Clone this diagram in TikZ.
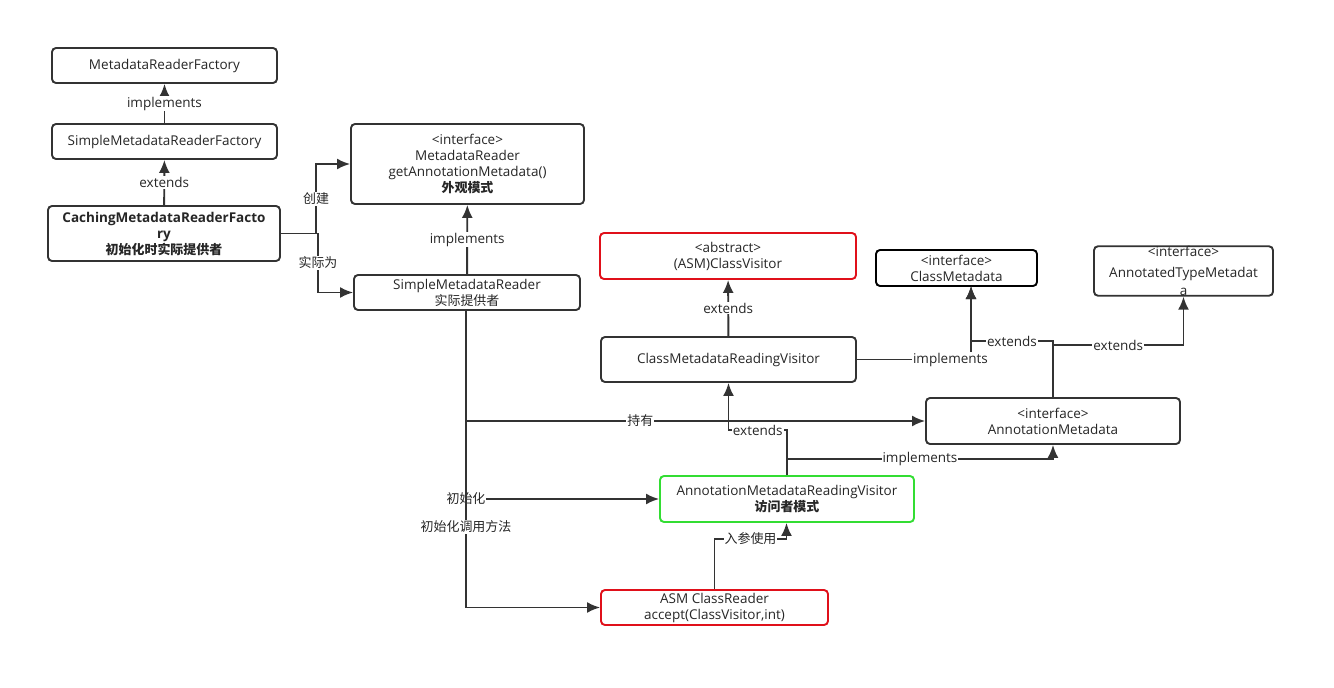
\documentclass[tikz,border=0pt]{standalone}
\usepackage{fontspec}
\setmainfont{Open Sans}
\newfontfamily\cjk{Noto Sans CJK SC}[Scale=0.96]
\usetikzlibrary{arrows.meta,calc}
\definecolor{ln}{HTML}{333333}
\definecolor{tx}{HTML}{262626}
\definecolor{rd}{HTML}{E0101A}
\definecolor{gn}{HTML}{33DD33}
\begin{document}
\begin{tikzpicture}[x=1pt,y=-1pt,
 box/.style={draw=ln, line width=1.9pt, rounded corners=4pt, fill=white, align=center, inner sep=0pt, font=\fontsize{13.5}{16}\selectfont, text=tx},
 arr/.style={draw=ln, line width=1.9pt, -{Latex[length=13pt,width=11pt]}},
 lbl/.style={fill=white, inner sep=1pt, font=\fontsize{13.5}{15}\selectfont, text=tx}]
\fill[white] (0,0) rectangle (1334,688);
\useasboundingbox (0,0) rectangle (1334,688);

% nodes
\node[box, minimum width=225pt, minimum height=35pt] (mrf) at (164.5,65.5) {MetadataReaderFactory};
\node[box, minimum width=225pt, minimum height=35pt] (smrf) at (164.5,141.5) {SimpleMetadataReaderFactory};
\node[box, minimum width=232pt, minimum height=55pt, font=\fontsize{13.5}{16}\selectfont\bfseries] (cmrf) at (164,233.5) {CachingMetadataReaderFacto\\ry\\{\cjk\bfseries 初始化时实际提供者}};
\node[box, minimum width=233pt, minimum height=80pt] (mr) at (467.5,164) {<interface>\\MetadataReader\\getAnnotationMetadata()\\{\cjk\bfseries 外观模式}};
\node[box, minimum width=226pt, minimum height=35pt] (smr) at (467,292.5) {SimpleMetadataReader\\{\cjk 实际提供者}};
\node[box, draw=rd, minimum width=256pt, minimum height=46pt] (cv) at (728,256) {<abstract>\\(ASM)ClassVisitor};
\node[box, minimum width=255pt, minimum height=45pt] (cmrv) at (728.5,359.5) {ClassMetadataReadingVisitor};
\node[box, draw=black, minimum width=161pt, minimum height=36pt] (cm) at (956.5,268) {<interface>\\ClassMetadata};
\node[box, minimum width=179pt, minimum height=42pt, font=\fontsize{13.5}{18}\selectfont] (atm) at (1183.5,271) {\raisebox{3pt}{<interface>}\\AnnotatedTypeMetadat\\a};
\node[box, minimum width=254pt, minimum height=46pt] (am) at (1053,421) {<interface>\\AnnotationMetadata};
\node[box, draw=gn, minimum width=254pt, minimum height=46pt] (amrv) at (787,499) {AnnotationMetadataReadingVisitor\\{\cjk\bfseries 访问者模式}};
\node[box, draw=rd, minimum width=227pt, minimum height=35pt] (cr) at (714.5,607.5) {ASM ClassReader\\accept(ClassVisitor,int)};

% connectors
\draw[arr] (smrf) -- node[lbl]{implements} (mrf);
\draw[arr] (cmrf) -- node[lbl]{extends} (smrf);
\coordinate (j1) at (316,233.5);
\coordinate (j2) at (318,233.5);
\draw[arr] (cmrf.east) -- (j1) |- node[lbl,pos=0.25]{\cjk 创建} (mr.west);
\draw[arr] (cmrf.east) -- (j2) |- node[lbl,pos=0.25]{\cjk 实际为} (smr.west);
\draw[arr] (smr) -- node[lbl]{implements} (mr);
\draw[arr] ([xshift=-1pt]smr.south) |- node[lbl,pos=0.69]{\cjk 持有} (am.west);
\draw[arr] ([xshift=-1pt]smr.south) |- node[lbl,pos=0.5]{\cjk 初始化} (amrv.west);
\draw[arr] ([xshift=-1pt]smr.south) |- node[lbl,pos=0.364]{\cjk 初始化调用方法} (cr.west);
\draw[arr] (cmrv) -- node[lbl]{extends} (cv);
\coordinate (cmb) at (971,286);
\draw[arr] (cmrv.east) -| node[lbl,pos=0.41]{implements} (cmb);
\draw[arr] (am.north) -- ++(0,-56) -| node[lbl,pos=0.25]{extends} (cmb);
\draw[arr] (am.north) -- ++(0,-52) -| node[lbl,pos=0.25]{extends} (atm.south);
\draw[arr] (amrv.north) -- ++(0,-45) -| node[lbl,pos=0.25]{extends} (cmrv.south);
\draw[arr] (amrv.north) -- ++(0,-16) -| node[lbl,pos=0.25]{implements} (am.south);
\draw[arr] (cr.north) -- ++(0,-50) -| node[lbl,pos=0.25]{\cjk 入参使用} ([xshift=-0.5pt]amrv.south);
\end{tikzpicture}
\end{document}
